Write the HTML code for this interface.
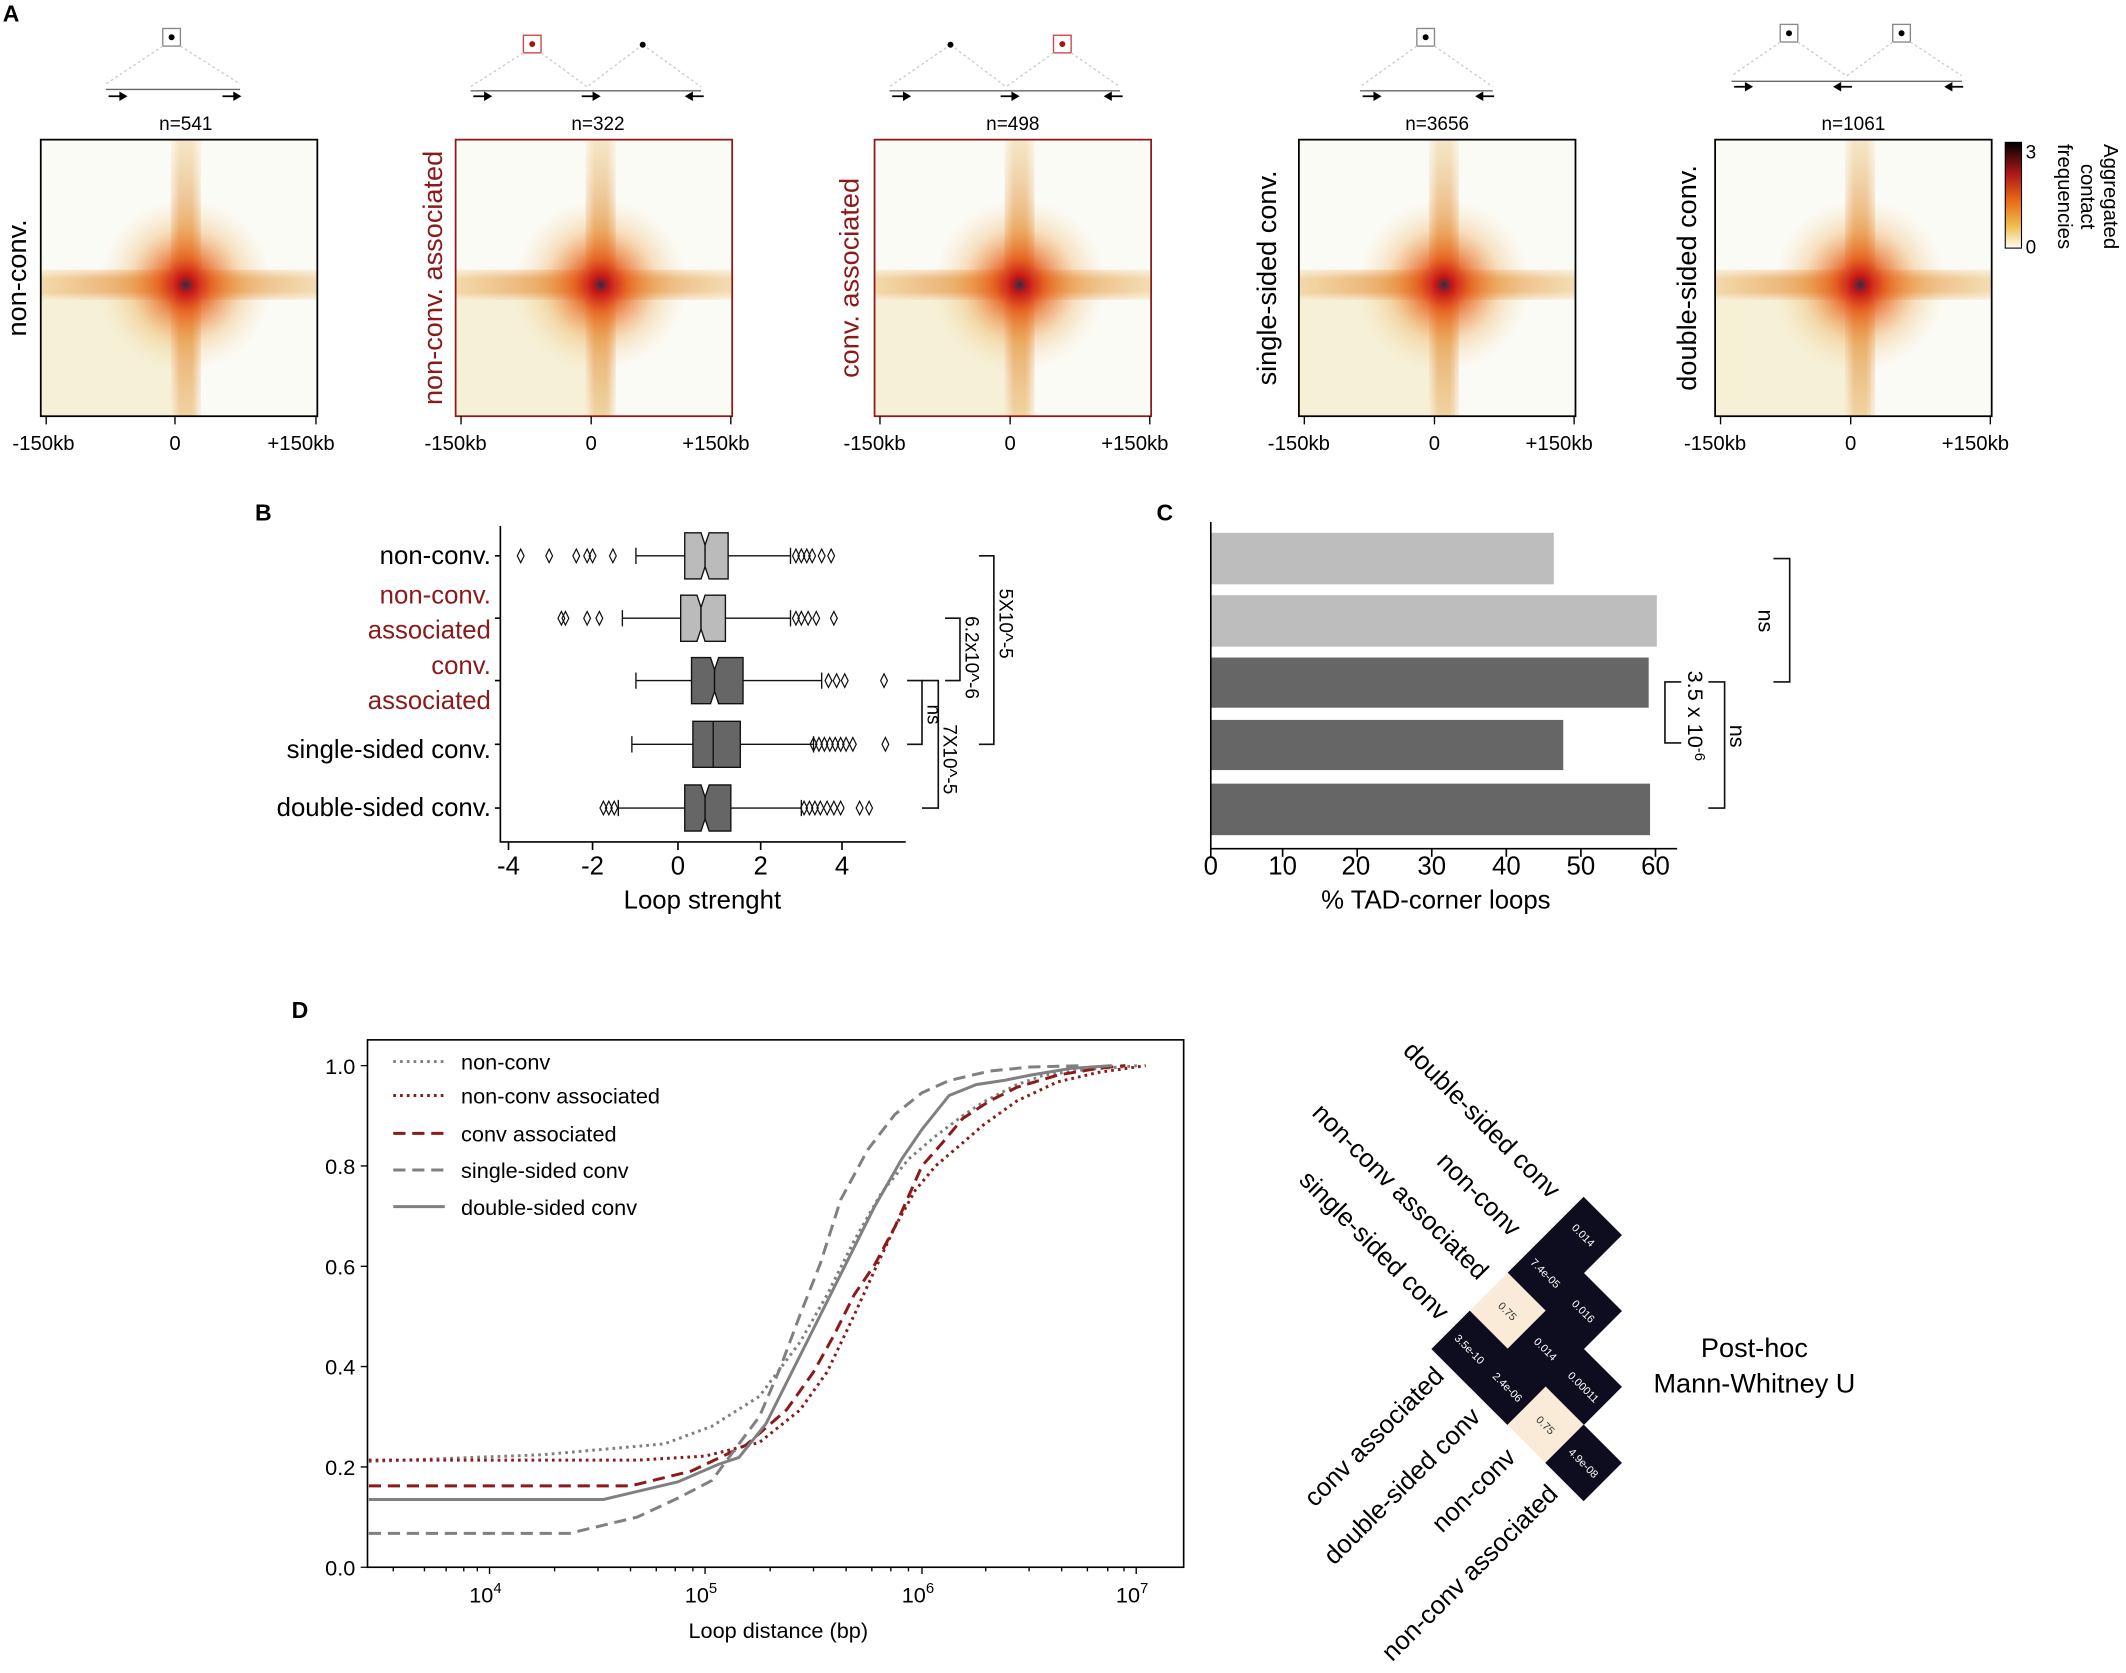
<!DOCTYPE html>
<html><head><meta charset="utf-8"><style>
html,body{margin:0;padding:0;background:#fff}
svg{display:block;font-family:"Liberation Sans",sans-serif}
</style></head><body>
<svg width="2126" height="1673" viewBox="0 0 1568 1234" xmlns="http://www.w3.org/2000/svg">
<defs>
<linearGradient id="hb" x1="0" y1="0" x2="1" y2="0">
<stop offset="0" stop-color="#e8b050" stop-opacity=".45"/><stop offset=".5" stop-color="#e07020" stop-opacity=".85"/><stop offset="1" stop-color="#e8b050" stop-opacity=".4"/></linearGradient>
<linearGradient id="vb" x1="0" y1="0" x2="0" y2="1">
<stop offset="0" stop-color="#e8c070" stop-opacity=".35"/><stop offset=".5" stop-color="#e07020" stop-opacity=".85"/><stop offset="1" stop-color="#e8b060" stop-opacity=".45"/></linearGradient>
<linearGradient id="hb2" x1="0" y1="0" x2="0" y2="1">
<stop offset="0" stop-color="#fff" stop-opacity=".6"/><stop offset=".3" stop-color="#fff" stop-opacity="0"/><stop offset=".7" stop-color="#fff" stop-opacity="0"/><stop offset="1" stop-color="#fff" stop-opacity=".6"/></linearGradient>
<linearGradient id="vb2" x1="0" y1="0" x2="1" y2="0">
<stop offset="0" stop-color="#fff" stop-opacity=".6"/><stop offset=".3" stop-color="#fff" stop-opacity="0"/><stop offset=".7" stop-color="#fff" stop-opacity="0"/><stop offset="1" stop-color="#fff" stop-opacity=".6"/></linearGradient>
<radialGradient id="rc"><stop offset="0" stop-color="#3a2a40"/><stop offset=".1" stop-color="#c81818"/><stop offset=".3" stop-color="#e65a18" stop-opacity=".8"/><stop offset=".65" stop-color="#eca040" stop-opacity=".3"/><stop offset="1" stop-color="#f2d090" stop-opacity="0"/></radialGradient>
<linearGradient id="cb" x1="0" y1="0" x2="0" y2="1"><stop offset="0" stop-color="#000"/><stop offset=".3" stop-color="#b01818"/><stop offset=".55" stop-color="#e86a18"/><stop offset=".8" stop-color="#f0c050"/><stop offset="1" stop-color="#fffef8"/></linearGradient>
<g id="hm">
<rect x="0" y="0" width="204" height="204" fill="#fbfbf6"/>
<rect x="0" y="112" width="115" height="92" fill="#efe2b0" opacity=".45"/>
<rect x="0" y="96" width="204" height="22" fill="url(#hb)"/>
<rect x="0" y="96" width="204" height="22" fill="url(#hb2)"/>
<rect x="96" y="0" width="22" height="204" fill="url(#vb)"/>
<rect x="96" y="0" width="22" height="204" fill="url(#vb2)"/>
<circle cx="107" cy="107" r="65" fill="url(#rc)"/>
</g>
<g id="ar"><path d="M-7 0H4" stroke="#000" stroke-width="1.3"/><path d="M7 0L1 -3.5L1 3.5Z" fill="#000"/></g>
<g id="al"><path d="M7 0H-4" stroke="#000" stroke-width="1.3"/><path d="M-7 0L-1 -3.5L-1 3.5Z" fill="#000"/></g>
</defs>

<!-- Panel A -->
<text x="2" y="16" font-size="17" font-weight="bold">A</text>
<g fill="none" stroke="#333" stroke-width="1">
<rect x="120" y="21" width="13" height="13" stroke="#888"/>
<path d="M120 34 L78 62 M133 34 L177 62" stroke="#ccc" stroke-dasharray="2 2"/>
<line x1="78" y1="66" x2="177" y2="66" stroke="#666"/>
<rect x="386" y="26" width="13" height="13" stroke="#c44"/>
<path d="M386 39 L347 64 M399 39 L433 64 M474 33 L433 64 M474 33 L517 64" stroke="#ccc" stroke-dasharray="2 2"/>
<line x1="347" y1="67" x2="517" y2="67" stroke="#666"/>
<rect x="777" y="26" width="13" height="13" stroke="#c44"/>
<path d="M701 33 L656 64 M701 33 L742 64 M777 39 L742 64 M790 39 L826 64" stroke="#ccc" stroke-dasharray="2 2"/>
<line x1="656" y1="67" x2="826" y2="67" stroke="#666"/>
<rect x="1045" y="21" width="13" height="13" stroke="#888"/>
<path d="M1045 34 L1003 64 M1058 34 L1101 64" stroke="#ccc" stroke-dasharray="2 2"/>
<line x1="1003" y1="67" x2="1101" y2="67" stroke="#666"/>
<rect x="1313" y="18" width="13" height="13" stroke="#888"/>
<rect x="1396" y="18" width="13" height="13" stroke="#888"/>
<path d="M1313 31 L1277 56 M1326 31 L1362 56 M1396 31 L1362 56 M1409 31 L1447 56" stroke="#ccc" stroke-dasharray="2 2"/>
<line x1="1277" y1="60" x2="1447" y2="60" stroke="#666"/>
</g>
<g fill="#000">
<circle cx="126.5" cy="27.5" r="2.2"/><circle cx="392.5" cy="32.5" r="2.2" fill="#b01010"/><circle cx="474" cy="33" r="2.2"/>
<circle cx="701" cy="33" r="2.2"/><circle cx="783.5" cy="32.5" r="2.2" fill="#b01010"/><circle cx="1051.5" cy="27.5" r="2.2"/>
<circle cx="1319.5" cy="24.5" r="2.2"/><circle cx="1402.5" cy="24.5" r="2.2"/>
</g>
<use href="#ar" x="87" y="71"/><use href="#ar" x="171" y="71"/>
<use href="#ar" x="356" y="71"/><use href="#ar" x="436" y="71"/><use href="#al" x="512" y="71"/>
<use href="#ar" x="665" y="71"/><use href="#ar" x="745" y="71"/><use href="#al" x="821" y="71"/>
<use href="#ar" x="1012" y="71"/><use href="#al" x="1095" y="71"/>
<use href="#ar" x="1286" y="64"/><use href="#al" x="1359" y="64"/><use href="#al" x="1441" y="64"/>
<g font-size="14" text-anchor="middle">
<text x="137" y="96">n=541</text><text x="441" y="96">n=322</text><text x="747" y="96">n=498</text><text x="1060" y="96">n=3656</text><text x="1367" y="96">n=1061</text>
</g>
<use href="#hm" x="30" y="103"/><rect x="30" y="103" width="204" height="204" fill="none" stroke="#000" stroke-width="1.3"/>
<use href="#hm" x="336" y="103"/><rect x="336" y="103" width="204" height="204" fill="none" stroke="#8b1a1a" stroke-width="1.3"/>
<use href="#hm" x="645" y="103"/><rect x="645" y="103" width="204" height="204" fill="none" stroke="#8b1a1a" stroke-width="1.3"/>
<use href="#hm" x="958" y="103"/><rect x="958" y="103" width="204" height="204" fill="none" stroke="#000" stroke-width="1.3"/>
<use href="#hm" x="1265" y="103"/><rect x="1265" y="103" width="204" height="204" fill="none" stroke="#000" stroke-width="1.3"/>
<g stroke="#000" stroke-width="1">
<path d="M34 307v6M129 307v6M233 307v6M340 307v6M436 307v6M539 307v6M649 307v6M745 307v6M848 307v6M962 307v6M1058 307v6M1161 307v6M1269 307v6M1365 307v6M1468 307v6"/>
</g>
<g font-size="15" text-anchor="middle">
<text x="32" y="332">-150kb</text><text x="129" y="332">0</text><text x="222" y="332">+150kb</text>
<text x="336" y="332">-150kb</text><text x="436" y="332">0</text><text x="528" y="332">+150kb</text>
<text x="645" y="332">-150kb</text><text x="745" y="332">0</text><text x="837" y="332">+150kb</text>
<text x="958" y="332">-150kb</text><text x="1058" y="332">0</text><text x="1150" y="332">+150kb</text>
<text x="1265" y="332">-150kb</text><text x="1365" y="332">0</text><text x="1457" y="332">+150kb</text>
</g>
<g font-size="20" text-anchor="middle">
<text transform="translate(19,205) rotate(-90)">non-conv.</text>
<text transform="translate(326,205) rotate(-90)" fill="#8b1a1a">non-conv. associated</text>
<text transform="translate(633,205) rotate(-90)" fill="#8b1a1a">conv. associated</text>
<text transform="translate(941,205) rotate(-90)">single-sided conv.</text>
<text transform="translate(1251,205) rotate(-90)">double-sided conv.</text>
</g>
<rect x="1479" y="105" width="12" height="78" fill="url(#cb)" stroke="#000" stroke-width=".8"/>
<text x="1494" y="117" font-size="14">3</text><text x="1494" y="187" font-size="14">0</text>
<g font-size="15" text-anchor="middle">
<text transform="translate(1552,145) rotate(90)">Aggregated</text>
<text transform="translate(1535,145) rotate(90)">contact</text>
<text transform="translate(1518,145) rotate(90)">frequencies</text>
</g>

<!-- Panel B -->
<text x="188" y="384" font-size="17" font-weight="bold">B</text>
<g stroke="#000" stroke-width="1.2" fill="none">
<path d="M369 388V621H668"/>
<path d="M375 621v6M437 621v6M500 621v6M561 621v6M621 621v6"/>
<path d="M369 410h-4M369 456h-4M369 502h-4M369 549h-4M369 596h-4"/>
</g>
<g font-size="19" text-anchor="middle">
<text x="375" y="645">-4</text><text x="437" y="645">-2</text><text x="500" y="645">0</text><text x="561" y="645">2</text><text x="621" y="645">4</text>
<text x="518" y="670">Loop strenght</text>
</g>
<g font-size="19" text-anchor="end">
<text x="362" y="416">non-conv.</text>
<text x="362" y="445" fill="#8b1a1a">non-conv.</text>
<text x="362" y="471" fill="#8b1a1a">associated</text>
<text x="362" y="497" fill="#8b1a1a">conv.</text>
<text x="362" y="523" fill="#8b1a1a">associated</text>
<text x="362" y="559">single-sided conv.</text>
<text x="362" y="602">double-sided conv.</text>
</g>
<g stroke="#111" stroke-width="1">
<path d="M469 410H505M537 410H583M469 404v12M583 404v12"/>
<polygon points="505,393 517,393 520,402 520,418 517,427 505,427" fill="#bbb"/>
<polygon points="537,393 523,393 520,402 520,418 523,427 537,427" fill="#bbb"/>
<path d="M459 456H502M535 456H583M459 450v12M583 450v12"/>
<polygon points="502,439 514,439 517,448 517,464 514,473 502,473" fill="#bbb"/>
<polygon points="535,439 520,439 517,448 517,464 520,473 535,473" fill="#bbb"/>
<path d="M469 502H510M548 502H606M469 496v12M606 496v12"/>
<polygon points="510,485 524,485 527,494 527,510 524,519 510,519" fill="#666"/>
<polygon points="548,485 530,485 527,494 527,510 530,519 548,519" fill="#666"/>
<path d="M466 549H511M546 549H600M466 543v12M600 543v12"/>
<polygon points="511,532 546,532 546,566 511,566" fill="#666"/><path d="M526 532v34"/>
<path d="M456 596H505M539 596H591M456 590v12M591 590v12"/>
<polygon points="505,579 517,579 520,588 520,604 517,613 505,613" fill="#666"/>
<polygon points="539,579 523,579 520,588 520,604 523,613 539,613" fill="#666"/>
</g>
<g fill="none" stroke="#111" stroke-width=".9">
<path id="dm" d="M0 -5L2.5 0L0 5L-2.5 0Z" transform="translate(384,410)"/>
<use href="#dm" x="21"/><use href="#dm" x="41"/><use href="#dm" x="49"/><use href="#dm" x="53"/><use href="#dm" x="68"/>
<use href="#dm" x="203"/><use href="#dm" x="207"/><use href="#dm" x="211"/><use href="#dm" x="215"/><use href="#dm" x="222"/><use href="#dm" x="229"/>
<use href="#dm" x="30" y="46"/><use href="#dm" x="33" y="46"/><use href="#dm" x="49" y="46"/><use href="#dm" x="58" y="46"/>
<use href="#dm" x="203" y="46"/><use href="#dm" x="207" y="46"/><use href="#dm" x="212" y="46"/><use href="#dm" x="218" y="46"/><use href="#dm" x="231" y="46"/>
<use href="#dm" x="227" y="92"/><use href="#dm" x="233" y="92"/><use href="#dm" x="239" y="92"/><use href="#dm" x="268" y="92"/>
<use href="#dm" x="216" y="139"/><use href="#dm" x="220" y="139"/><use href="#dm" x="224" y="139"/><use href="#dm" x="228" y="139"/><use href="#dm" x="232" y="139"/><use href="#dm" x="236" y="139"/><use href="#dm" x="240" y="139"/><use href="#dm" x="245" y="139"/><use href="#dm" x="269" y="139"/>
<use href="#dm" x="61" y="186"/><use href="#dm" x="65" y="186"/><use href="#dm" x="69" y="186"/>
<use href="#dm" x="209" y="186"/><use href="#dm" x="213" y="186"/><use href="#dm" x="217" y="186"/><use href="#dm" x="221" y="186"/><use href="#dm" x="226" y="186"/><use href="#dm" x="231" y="186"/><use href="#dm" x="236" y="186"/><use href="#dm" x="250" y="186"/><use href="#dm" x="257" y="186"/>
</g>
<g fill="none" stroke="#111" stroke-width="1.2">
<path d="M722 410H733V549H722"/>
<path d="M697 456H708V502H697"/>
<path d="M669 502H680V549H669"/>
<path d="M680 502H692V596H680"/>
</g>
<g font-size="14" text-anchor="middle">
<text transform="translate(737,460) rotate(90)">5X10^-5</text>
<text transform="translate(712,485) rotate(90)">6.2x10^-6</text>
<text transform="translate(684,527) rotate(90)">ns</text>
<text transform="translate(696,560) rotate(90)">7X10^-5</text>
</g>

<!-- Panel C -->
<text x="853" y="384" font-size="17" font-weight="bold">C</text>
<rect x="893" y="393" width="253" height="38" fill="#bdbdbd"/>
<rect x="893" y="439" width="329" height="38" fill="#bdbdbd"/>
<rect x="893" y="485" width="323" height="37" fill="#666"/>
<rect x="893" y="531" width="260" height="37" fill="#666"/>
<rect x="893" y="578" width="324" height="38" fill="#666"/>
<g stroke="#000" stroke-width="1.2" fill="none">
<path d="M893 385V626H1237"/>
<path d="M893 626v6M946 626v6M1001 626v6M1056 626v6M1111 626v6M1166 626v6M1221 626v6"/>
</g>
<g font-size="19" text-anchor="middle">
<text x="893" y="645">0</text><text x="946" y="645">10</text><text x="1000" y="645">20</text><text x="1056" y="645">30</text><text x="1111" y="645">40</text><text x="1166" y="645">50</text><text x="1221" y="645">60</text>
<text x="1059" y="670">% TAD-corner loops</text>
</g>
<g fill="none" stroke="#111" stroke-width="1.2">
<path d="M1308 412H1320V503H1308"/>
<path d="M1240 503H1228V548H1240"/>
<path d="M1260 503H1272V596H1260"/>
</g>
<g font-size="16" text-anchor="middle">
<text transform="translate(1297,458) rotate(90)">ns</text>
<text transform="translate(1245,528) rotate(90)">3.5 x 10<tspan dy="-5" font-size="11">-6</tspan></text>
<text transform="translate(1276,543) rotate(90)">ns</text>
</g>

<!-- Panel D -->
<text x="215" y="751" font-size="17" font-weight="bold">D</text>
<rect x="271" y="767" width="602" height="389" fill="none" stroke="#000" stroke-width="1.2"/>
<g stroke="#000" stroke-width="1">
<path d="M271 1156h-5M271 1082h-5M271 1008h-5M271 934h-5M271 860h-5M271 786h-5"/>
<path d="M361 1156v5M520 1156v5M680 1156v5M838 1156v5"/>
<path d="M290 1156v3M313 1156v3M329 1156v3M342 1156v3M352 1156v3M409 1156v3M441 1156v3M465 1156v3M484 1156v3M498 1156v3M511 1156v3M568 1156v3M600 1156v3M624 1156v3M643 1156v3M657 1156v3M670 1156v3M727 1156v3M759 1156v3M783 1156v3M802 1156v3M817 1156v3M829 1156v3"/>
</g>
<g font-size="16" text-anchor="end">
<text x="262" y="1162">0.0</text><text x="262" y="1088">0.2</text><text x="262" y="1014">0.4</text><text x="262" y="940">0.6</text><text x="262" y="866">0.8</text><text x="262" y="792">1.0</text>
</g>
<g font-size="16" text-anchor="middle">
<text x="358" y="1182">10<tspan font-size="11" dy="-7">4</tspan></text>
<text x="517" y="1182">10<tspan font-size="11" dy="-7">5</tspan></text>
<text x="677" y="1182">10<tspan font-size="11" dy="-7">6</tspan></text>
<text x="835" y="1182">10<tspan font-size="11" dy="-7">7</tspan></text>
<text x="574" y="1208">Loop distance (bp)</text>
</g>
<g fill="none" stroke-width="2.2">
<polyline stroke="#808080" stroke-dasharray="2 3" points="272,1078 400,1073 490,1065 525,1052 560,1030 590,990 610,955 630,915 650,880 670,855 690,838 710,823 725,813 750,800 770,793 800,789 840,786"/>
<polyline stroke="#8b1a1a" stroke-dasharray="2 3" points="272,1077 470,1077 520,1074 560,1064 590,1040 610,1012 630,970 645,937 660,905 675,878 690,860 710,843 725,830 750,812 780,798 810,791 845,786"/>
<polyline stroke="#8b1a1a" stroke-dasharray="9 5" points="272,1096 465,1096 510,1085 550,1066 580,1040 600,1012 615,985 630,955 645,933 660,905 680,860 695,843 710,825 730,812 750,802 780,793 810,788 830,786"/>
<polyline stroke="#808080" stroke-dasharray="9 5" points="272,1131 420,1131 470,1119 500,1105 525,1092 545,1065 560,1045 575,1010 590,970 605,932 620,885 640,848 660,822 680,806 700,797 730,790 760,787 800,786"/>
<polyline stroke="#808080" points="272,1106 445,1106 500,1093 530,1080 545,1075 565,1050 585,1010 600,980 615,950 630,920 645,890 665,855 680,833 700,808 720,800 740,797 760,793 790,788 820,786"/>
</g>
<g font-size="16">
<line x1="290" y1="783" x2="328" y2="783" stroke="#808080" stroke-width="2.2" stroke-dasharray="2 3"/><text x="340" y="789">non-conv</text>
<line x1="290" y1="808" x2="328" y2="808" stroke="#8b1a1a" stroke-width="2.2" stroke-dasharray="2 3"/><text x="340" y="814">non-conv associated</text>
<line x1="290" y1="836" x2="328" y2="836" stroke="#8b1a1a" stroke-width="2.2" stroke-dasharray="9 5"/><text x="340" y="842">conv associated</text>
<line x1="290" y1="863" x2="328" y2="863" stroke="#808080" stroke-width="2.2" stroke-dasharray="9 5"/><text x="340" y="869">single-sided  conv</text>
<line x1="290" y1="890" x2="328" y2="890" stroke="#808080" stroke-width="2.2"/><text x="340" y="896">double-sided conv</text>
</g>

<!-- Post-hoc triangle -->
<g>
<g transform="translate(1168,911) rotate(45)"><rect x="-20" y="-20" width="40" height="40" fill="#0d0d1f"/><text font-size="8" fill="#fff" text-anchor="middle" y="3">0.014</text></g>
<g transform="translate(1140,939) rotate(45)"><rect x="-20" y="-20" width="40" height="40" fill="#0d0d1f"/><text font-size="8" fill="#fff" text-anchor="middle" y="3">7.4e-05</text></g>
<g transform="translate(1168,967) rotate(45)"><rect x="-20" y="-20" width="40" height="40" fill="#0d0d1f"/><text font-size="8" fill="#fff" text-anchor="middle" y="3">0.016</text></g>
<g transform="translate(1112,967) rotate(45)"><rect x="-20" y="-20" width="40" height="40" fill="#faebd9"/><text font-size="8" fill="#333" text-anchor="middle" y="3">0.75</text></g>
<g transform="translate(1084,995) rotate(45)"><rect x="-20" y="-20" width="40" height="40" fill="#0d0d1f"/><text font-size="8" fill="#fff" text-anchor="middle" y="3">3.5e-10</text></g>
<g transform="translate(1140,995) rotate(45)"><rect x="-20" y="-20" width="40" height="40" fill="#0d0d1f"/><text font-size="8" fill="#fff" text-anchor="middle" y="3">0.014</text></g>
<g transform="translate(1168,1023) rotate(45)"><rect x="-20" y="-20" width="40" height="40" fill="#0d0d1f"/><text font-size="8" fill="#fff" text-anchor="middle" y="3">0.00011</text></g>
<g transform="translate(1112,1023) rotate(45)"><rect x="-20" y="-20" width="40" height="40" fill="#0d0d1f"/><text font-size="8" fill="#fff" text-anchor="middle" y="3">2.4e-06</text></g>
<g transform="translate(1140,1051) rotate(45)"><rect x="-20" y="-20" width="40" height="40" fill="#faebd9"/><text font-size="8" fill="#333" text-anchor="middle" y="3">0.75</text></g>
<g transform="translate(1168,1079) rotate(45)"><rect x="-20" y="-20" width="40" height="40" fill="#0d0d1f"/><text font-size="8" fill="#fff" text-anchor="middle" y="3">4.9e-08</text></g>
</g>
<g font-size="19" text-anchor="end">
<text transform="translate(1143,885) rotate(45)">double-sided conv</text>
<text transform="translate(1114,913) rotate(45)">non-conv</text>
<text transform="translate(1090,945) rotate(45)">non-conv associated</text>
<text transform="translate(1061,975) rotate(45)">single-sided  conv</text>
<text transform="translate(1066,1016) rotate(-45)">conv associated</text>
<text transform="translate(1093,1046) rotate(-45)">double-sided conv</text>
<text transform="translate(1119,1076) rotate(-45)">non-conv</text>
<text transform="translate(1150,1103) rotate(-45)">non-conv associated</text>
</g>
<g font-size="20" text-anchor="middle">
<text x="1294" y="1001">Post-hoc</text>
<text x="1294" y="1027">Mann-Whitney U</text>
</g>
</svg>
</body></html>
